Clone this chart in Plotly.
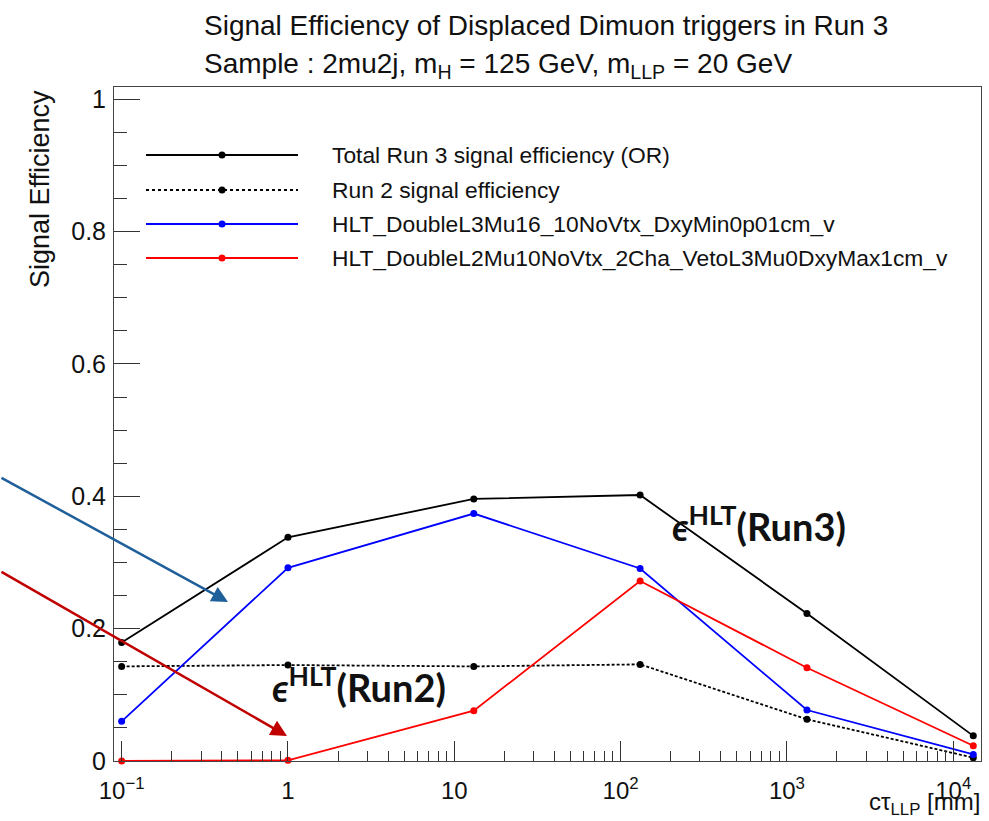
import plotly.graph_objects as go

# ---------------- data ----------------
ctau = [0.1, 1, 13.1, 131, 1320, 13200]
eff_total_run3 = [0.179, 0.338, 0.396, 0.402, 0.223, 0.038]
eff_run2 = [0.143, 0.145, 0.143, 0.146, 0.063, 0.005]
eff_l3mu16 = [0.060, 0.292, 0.374, 0.291, 0.077, 0.010]
eff_l2mu10 = [0.000, 0.001, 0.076, 0.272, 0.141, 0.023]

series_names = [
    "Total Run 3 signal efficiency (OR)",
    "Run 2 signal efficiency",
    "HLT_DoubleL3Mu16_10NoVtx_DxyMin0p01cm_v",
    "HLT_DoubleL2Mu10NoVtx_2Cha_VetoL3Mu0DxyMax1cm_v",
]
series_colors = ["#000000", "#000000", "#0000ff", "#ff0000"]
series_dash = ["solid", "3px,2px", "solid", "solid"]
series_values = [eff_total_run3, eff_run2, eff_l3mu16, eff_l2mu10]

xtick_vals = [0.1, 1, 10, 100, 1000, 10000]
xtick_text = ["10<sup>\u22121</sup>", "1", "10", "10<sup>2</sup>", "10<sup>3</sup>", "10<sup>4</sup>"]
ytick_vals = [0, 0.2, 0.4, 0.6, 0.8, 1.0]
ytick_text = ["0", "0.2", "0.4", "0.6", "0.8", "1"]

# ---------------- layout geometry ----------------
FIG_W, FIG_H = 989, 821
L, R, T, B = 114, 8, 87, 60
PW, PH = FIG_W - L - R, FIG_H - T - B


def px(x):
    return (x - L) / PW


def py(y):
    return (FIG_H - B - y) / PH


FONT = "Liberation Sans, Arial, Helvetica, sans-serif"

fig = go.Figure()
for name, vals, col, dash in zip(series_names, series_values, series_colors, series_dash):
    fig.add_trace(go.Scatter(
        x=ctau, y=vals, mode="lines+markers", name=name,
        line=dict(color=col, width=1.8, dash=dash),
        marker=dict(color=col, size=7, symbol="circle"),
        cliponaxis=False, showlegend=False,
    ))

minor_x = [k * 10 ** e for e in range(-1, 5) for k in range(2, 10)]

fig.update_xaxes(
    type="log", range=[-1.046, 4.167],
    tickvals=xtick_vals, ticktext=xtick_text,
    ticks="inside", ticklen=20, tickwidth=1, tickcolor="#333",
    minor=dict(tickvals=minor_x, ticks="inside", ticklen=10, tickcolor="#333", tickwidth=1),
    showline=True, linecolor="#444", linewidth=1, mirror=True,
    showgrid=False, zeroline=False,
    tickfont=dict(family=FONT, size=24, color="#111"),
    ticklabelstandoff=8,
)
fig.update_yaxes(
    range=[0, 1.0186],
    tickvals=ytick_vals, ticktext=ytick_text,
    ticks="inside", ticklen=26, tickwidth=1, tickcolor="#333",
    minor=dict(dtick=0.05, ticks="inside", ticklen=13, tickcolor="#333", tickwidth=1),
    showline=True, linecolor="#444", linewidth=1, mirror=True,
    showgrid=False, zeroline=False,
    tickfont=dict(family=FONT, size=25, color="#111"),
    ticklabelstandoff=2,
)

ann = []
# title
ann.append(dict(x=px(202), y=py(25), xref="paper", yref="paper", xanchor="left", yanchor="middle",
                text="Signal Efficiency of Displaced Dimuon triggers in Run 3", showarrow=False,
                font=dict(family=FONT, size=28, color="#111")))
ann.append(dict(x=px(202), y=py(66), xref="paper", yref="paper", xanchor="left", yanchor="middle",
                text="Sample : 2mu2j, m<sub>H</sub> = 125 GeV, m<sub>LLP</sub> = 20 GeV", showarrow=False,
                font=dict(family=FONT, size=28, color="#111")))
# y title
ann.append(dict(x=px(40), y=py(88), xref="paper", yref="paper", xanchor="center", yanchor="top",
                text="Signal Efficiency", textangle=-90, showarrow=False,
                font=dict(family=FONT, size=27, color="#111")))
# x title
ann.append(dict(x=px(982), y=py(786), xref="paper", yref="paper", xanchor="right", yanchor="top",
                text="c\u03c4<sub>LLP</sub> [mm]", showarrow=False,
                font=dict(family=FONT, size=24, color="#111")))

# legend (drawn manually to match the long ROOT legend lines)
shapes = []
leg_rows = [155, 190, 224, 258]
for name, col, dash, yy in zip(series_names, series_colors, series_dash, leg_rows):
    shapes.append(dict(type="line", xref="paper", yref="paper", x0=px(146), x1=px(298), y0=py(yy), y1=py(yy),
                       line=dict(color=col, width=2, dash="dot" if dash != "solid" else "solid")))
    shapes.append(dict(type="circle", xref="paper", yref="paper", x0=px(218.5), x1=px(225.5),
                       y0=py(yy + 3.5), y1=py(yy - 3.5), fillcolor=col, line=dict(color=col, width=0)))
    ann.append(dict(x=px(330), y=py(yy), xref="paper", yref="paper", xanchor="left", yanchor="middle",
                    text=name, showarrow=False, font=dict(family=FONT, size=22.8, color="#111")))

# slide annotations: arrows and labels
ann.append(dict(x=px(228), y=py(602), xref="paper", yref="paper", ax=-248, ay=-125,
                showarrow=True, arrowhead=2, arrowsize=1.3, arrowwidth=2.5, arrowcolor="#1f5f9a", text=""))
ann.append(dict(x=px(287), y=py(736), xref="paper", yref="paper", ax=-307, ay=-165,
                showarrow=True, arrowhead=2, arrowsize=1.3, arrowwidth=2.5, arrowcolor="#c00000", text=""))
ann.append(dict(x=px(670), y=py(524), xref="paper", yref="paper", xanchor="left", yanchor="middle",
                text="<b><i>\u03f5</i><sup>HLT</sup>(Run3)</b>", showarrow=False,
                font=dict(family="Lato, Carlito, sans-serif", size=38, color="#111")))
ann.append(dict(x=px(270), y=py(685), xref="paper", yref="paper", xanchor="left", yanchor="middle",
                text="<b><i>\u03f5</i><sup>HLT</sup>(Run2)</b>", showarrow=False,
                font=dict(family="Lato, Carlito, sans-serif", size=38, color="#111")))

fig.update_layout(
    width=FIG_W, height=FIG_H,
    margin=dict(l=L, r=R, t=T, b=B, pad=0),
    paper_bgcolor="white", plot_bgcolor="white",
    annotations=ann, shapes=shapes, showlegend=False,
)

fig.write_html("out.html")
